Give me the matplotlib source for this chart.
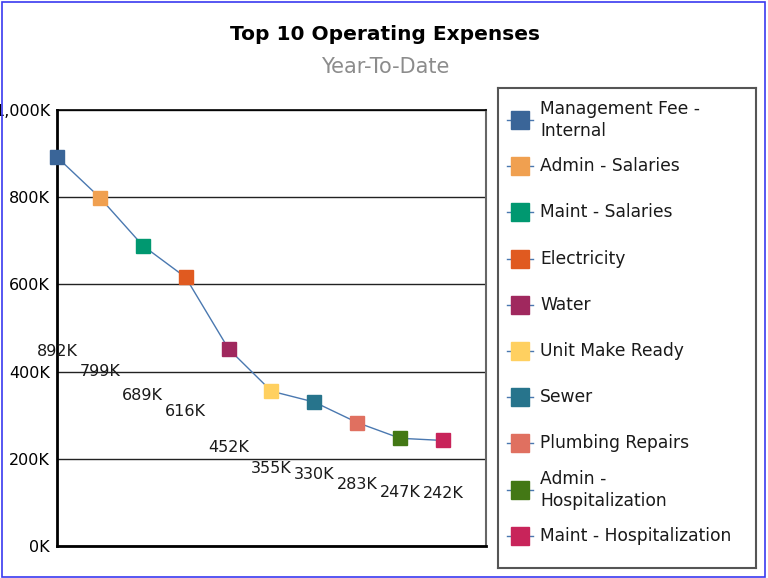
import matplotlib.pyplot as plt
from matplotlib.patches import Rectangle
from matplotlib.ticker import FuncFormatter

plt.rcParams['font.family'] = ['DejaVu Sans']

categories = ["Management Fee -\nInternal", "Admin - Salaries", "Maint - Salaries",
              "Electricity", "Water", "Unit Make Ready", "Sewer", "Plumbing Repairs",
              "Admin -\nHospitalization", "Maint - Hospitalization"]
values = [892, 799, 689, 616, 452, 355, 330, 283, 247, 242]   # thousands
colors = ["#3a6598", "#f0a050", "#009870", "#e05a20", "#a0285e",
          "#ffd060", "#27748c", "#e07060", "#437815", "#c8245a"]
yticks = [0, 200, 400, 600, 800, 1000]

fig = plt.figure(figsize=(7.68, 5.78), dpi=100)
fig.patches.append(Rectangle((0.002, 0.002), 0.994, 0.995, transform=fig.transFigure,
                             fill=False, edgecolor="#3a3af0", linewidth=1.2))

fig.text(0.501, 0.941, "Top 10 Operating Expenses", ha="center", va="center",
         fontsize=14.5, fontweight="bold", color="black")
fig.text(0.501, 0.884, "Year-To-Date", ha="center", va="center",
         fontsize=15, color="#8c8c8c")

ax = fig.add_axes([0.0742, 0.0554, 0.5586, 0.7543])
x = list(range(len(values)))
ax.plot(x, values, color="#4a78b0", linewidth=1, zorder=3)
for i, v in enumerate(values):
    ax.plot(i, v, marker="s", markersize=10, color=colors[i], linestyle="none",
            zorder=4, clip_on=False)
    # value labels sit at half height, below the line
    ax.text(i, v / 2, f"{v}K", ha="center", va="center", fontsize=11.5, color="#1a1a1a", zorder=5)

ax.set_xlim(0, 10)
ax.set_ylim(0, 1000)
ax.set_yticks(yticks)
ax.yaxis.set_major_formatter(FuncFormatter(lambda v, p: f"{int(v):,}K"))
ax.tick_params(axis="y", length=0, pad=5, labelsize=11.5)
ax.set_xticks([])
ax.grid(axis="y", color="#222222", linewidth=1)
ax.set_axisbelow(True)
ax.spines["left"].set_linewidth(2)
ax.spines["bottom"].set_linewidth(2)
ax.spines["top"].set_linewidth(1.2)
ax.spines["right"].set_color("#666666")
ax.spines["right"].set_linewidth(1.5)

# legend panel
lax = fig.add_axes([498 / 768, 1 - 568 / 578, 258 / 768, 480 / 578])
lax.set_xlim(0, 258)
lax.set_ylim(480, 0)
lax.set_xticks([])
lax.set_yticks([])
for s in lax.spines.values():
    s.set_color("#555555")
    s.set_linewidth(1.5)
for i, name in enumerate(categories):
    yc = 32 + i * 46.2
    lax.plot([9, 35], [yc, yc], color="#4a78b0", linewidth=1)
    lax.plot(22, yc, marker="s", markersize=12.5, color=colors[i], linestyle="none")
    lax.text(42, yc, name, ha="left", va="center", fontsize=12.3, color="#1a1a1a",
             linespacing=1.3)

fig.savefig("out.png", dpi=100)
